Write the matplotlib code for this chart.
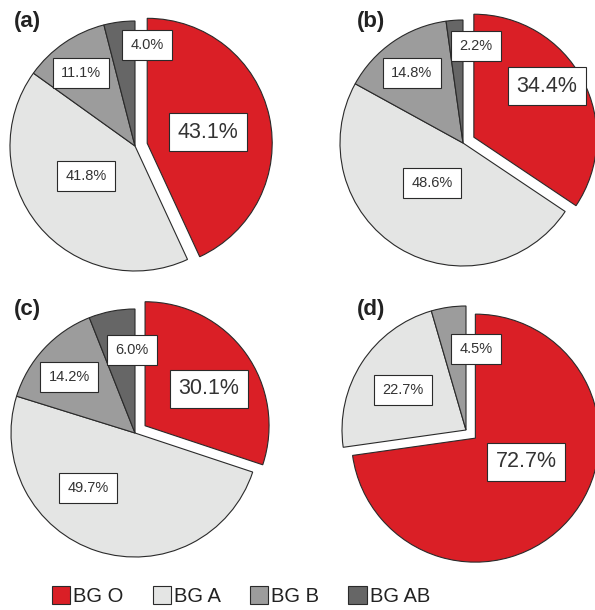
import matplotlib
matplotlib.use('Agg')
import matplotlib.pyplot as plt
from matplotlib.patches import Patch

# ---------------- data ----------------
groups = ['BG O', 'BG A', 'BG B', 'BG AB']
panel_names = ['(a)', '(b)', '(c)', '(d)']
values_a = [43.1, 41.8, 11.1, 4.0]
values_b = [34.4, 48.6, 14.8, 2.2]
values_c = [30.1, 49.7, 14.2, 6.0]
values_d = [72.7, 22.7, 4.5]          # no BG AB slice in (d)

# ---------------- style / layout ----------------
colors = ['#DA1F26', '#E4E5E4', '#9C9C9C', '#666666']
edge = '#2a2a2a'
text_col = '#333333'
plt.rcParams['font.family'] = ['Liberation Sans', 'DejaVu Sans']

W, H = 595, 610
fig = plt.figure(figsize=(W / 100, H / 100), dpi=100)

# pie centre (px, top origin) and radius (px)
geom = [(135, 146, 125), (463, 143, 123), (135, 433, 124), (466, 430, 124)]
# label box centres, in units of the pie radius relative to the centre
label_pos = [
    [(0.584, 0.112), (-0.392, -0.24), (-0.432, 0.584), (0.096, 0.808)],
    [(0.683, 0.463), (-0.252, -0.325), (-0.415, 0.569), (0.106, 0.789)],
    [(0.597, 0.355), (-0.379, -0.444), (-0.532, 0.452), (-0.024, 0.669)],
    [(0.484, -0.258), (-0.508, 0.323), (0.081, 0.653)],
]
panel_label_xy = [(27, 22), (371, 22), (27, 309), (371, 310)]

all_values = [values_a, values_b, values_c, values_d]


def add_pie(cx, cy, r, values, positions):
    half = 150
    ax = fig.add_axes([(cx - half) / W, (H - cy - half) / H, 2 * half / W, 2 * half / H])
    ax.patch.set_alpha(0)
    n = len(values)
    ax.pie(values, colors=colors[:n], startangle=90, counterclock=False,
           explode=[0.1] + [0] * (n - 1),
           wedgeprops=dict(edgecolor=edge, linewidth=0.8))
    ax.set_xlim(-half / r, half / r)
    ax.set_ylim(-half / r, half / r)
    ax.set_aspect('equal')
    ax.axis('off')
    for i, (v, p) in enumerate(zip(values, positions)):
        if i == 0:
            ax.text(p[0], p[1], f'{v:.1f}%', fontsize=15.5, color=text_col,
                    ha='center', va='center',
                    bbox=dict(boxstyle='square,pad=0.4', facecolor='white',
                              edgecolor=edge, linewidth=0.8))
        else:
            ax.text(p[0], p[1], f'{v:.1f}%', fontsize=10.5, color=text_col,
                    ha='center', va='center',
                    bbox=dict(boxstyle='square,pad=0.55', facecolor='white',
                              edgecolor=edge, linewidth=0.8))
    return ax


for (cx, cy, r), vals, pos in zip(geom, all_values, label_pos):
    add_pie(cx, cy, r, vals, pos)

for name, (x, y) in zip(panel_names, panel_label_xy):
    fig.text(x / W, 1 - y / H, name, fontsize=16, fontweight='bold',
             color='#222222', ha='center', va='center')

handles = [Patch(facecolor=c, edgecolor=edge, linewidth=0.8, label=g)
           for c, g in zip(colors, groups)]
leg = fig.legend(handles=handles, loc='center', bbox_to_anchor=(241 / W, 1 - 596 / H),
                 ncol=4, frameon=False, fontsize=14.5, handlelength=0.9,
                 handleheight=0.95, handletextpad=0.15, columnspacing=1.45)
for t in leg.get_texts():
    t.set_color('#222222')

fig.savefig('out.png', dpi=100)
